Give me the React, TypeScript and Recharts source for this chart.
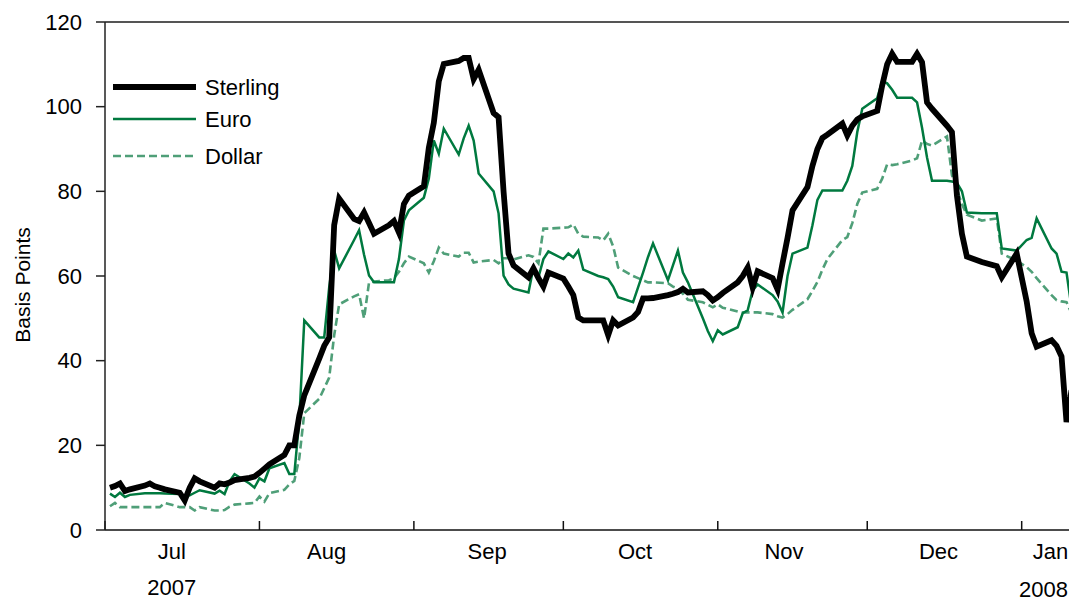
import React from "react";
import { LineChart, Line, XAxis, YAxis, Legend, ReferenceLine } from "recharts";

// business days, Jul 2007 - Jan 2008
const dates = [
  // Jul
  "2007-07-02", "2007-07-03", "2007-07-04", "2007-07-05", "2007-07-06", "2007-07-09", "2007-07-10", "2007-07-11",
  "2007-07-12", "2007-07-13", "2007-07-16", "2007-07-17", "2007-07-18", "2007-07-19", "2007-07-20", "2007-07-23",
  "2007-07-24", "2007-07-25", "2007-07-26", "2007-07-27", "2007-07-30", "2007-07-31",
  // Aug
  "2007-08-01", "2007-08-02", "2007-08-03", "2007-08-06", "2007-08-07", "2007-08-08", "2007-08-09", "2007-08-10",
  "2007-08-13", "2007-08-14", "2007-08-15", "2007-08-16", "2007-08-17", "2007-08-20", "2007-08-21", "2007-08-22",
  "2007-08-23", "2007-08-24", "2007-08-27", "2007-08-28", "2007-08-29", "2007-08-30", "2007-08-31",
  // Sep
  "2007-09-03", "2007-09-04", "2007-09-05", "2007-09-06", "2007-09-07", "2007-09-10", "2007-09-11", "2007-09-12",
  "2007-09-13", "2007-09-14", "2007-09-17", "2007-09-18", "2007-09-19", "2007-09-20", "2007-09-21", "2007-09-24",
  "2007-09-25", "2007-09-26", "2007-09-27", "2007-09-28",
  // Oct
  "2007-10-01", "2007-10-02", "2007-10-03", "2007-10-04", "2007-10-05", "2007-10-08", "2007-10-09", "2007-10-10",
  "2007-10-11", "2007-10-12", "2007-10-15", "2007-10-16", "2007-10-17", "2007-10-18", "2007-10-19", "2007-10-22",
  "2007-10-23", "2007-10-24", "2007-10-25", "2007-10-26", "2007-10-29", "2007-10-30", "2007-10-31",
  // Nov
  "2007-11-01", "2007-11-02", "2007-11-05", "2007-11-06", "2007-11-07", "2007-11-08", "2007-11-09", "2007-11-12",
  "2007-11-13", "2007-11-14", "2007-11-15", "2007-11-16", "2007-11-19", "2007-11-20", "2007-11-21", "2007-11-22",
  "2007-11-23", "2007-11-26", "2007-11-27", "2007-11-28", "2007-11-29", "2007-11-30",
  // Dec
  "2007-12-03", "2007-12-04", "2007-12-05", "2007-12-06", "2007-12-07", "2007-12-10", "2007-12-11", "2007-12-12",
  "2007-12-13", "2007-12-14", "2007-12-17", "2007-12-18", "2007-12-19", "2007-12-20", "2007-12-21", "2007-12-24",
  "2007-12-27", "2007-12-28", "2007-12-31",
  // Jan
  "2008-01-02", "2008-01-03", "2008-01-04", "2008-01-07", "2008-01-08", "2008-01-09", "2008-01-10", "2008-01-11",
];

const sterling = [
  10.0, 10.4, 11.0, 9.2, 9.6, 10.5, 11.0, 10.3, 10.0, 9.6, 8.8, 7.0, 10.0, 12.2, 11.5, 10.0, 11.0, 10.8, 11.2, 11.8, 12.3, 12.6,
  13.5, 14.5, 15.5, 17.7, 20.0, 20.0, 27.0, 31.8, 40.5, 43.5, 45.5, 72.0, 78.3, 73.5, 73.0, 75.0, 72.5, 70.0, 72.0, 73.0, 70.3, 77.0, 79.0,
  81.2, 90.3, 96.2, 106.0, 110.1, 110.8, 111.5, 111.5, 106.5, 108.7, 98.5, 97.5, 80.0, 65.3, 62.5, 59.7, 61.8, 59.5, 57.5, 60.8,
  59.4, 57.5, 55.5, 50.2, 49.5, 49.5, 49.5, 46.0, 49.5, 48.3, 50.2, 51.5, 54.7, 54.7, 54.8, 55.5, 55.8, 56.2, 57.0, 56.1, 56.4, 55.5, 54.2,
  55.0, 56.0, 58.5, 60.0, 62.0, 57.3, 61.1, 59.5, 56.8, 63.0, 69.0, 75.5, 81.0, 86.0, 90.0, 92.6, 93.4, 96.0, 93.2, 95.5, 97.0, 97.7,
  99.0, 105.0, 110.0, 112.5, 110.6, 110.6, 112.5, 110.5, 101.0, 99.5, 95.5, 94.0, 79.0, 70.0, 64.6, 63.3, 62.3, 59.7, 65.3,
  54.0, 46.5, 43.3, 44.8, 43.5, 41.0, 25.5, 33.0,
];

const euro = [
  8.6, 7.8, 8.8, 7.8, 8.3, 8.7, 8.7, 8.7, 8.7, 8.6, 8.5, 8.0, 8.2, 8.8, 9.4, 8.6, 9.3, 8.5, 11.5, 13.2, 11.0, 10.0,
  12.2, 11.5, 14.6, 15.8, 13.2, 13.2, 26.0, 49.5, 45.5, 45.5, 57.3, 66.0, 61.8, 68.5, 70.8, 65.0, 60.1, 58.5, 58.5, 58.5, 64.0, 73.1, 75.5,
  78.5, 83.0, 92.0, 88.9, 94.8, 88.7, 92.5, 95.5, 92.0, 84.2, 80.0, 74.8, 60.1, 58.0, 57.0, 56.1, 62.0, 59.7, 64.0, 65.8,
  64.0, 65.3, 64.4, 66.0, 61.5, 60.0, 59.7, 59.3, 57.5, 55.0, 53.8, 57.3, 60.8, 64.5, 67.7, 59.0, 62.5, 66.0, 60.8, 58.5, 50.0, 47.0, 44.6,
  47.2, 46.2, 47.9, 51.2, 51.9, 56.6, 58.0, 55.5, 54.0, 51.4, 60.0, 65.3, 66.7, 72.0, 78.0, 80.2, 80.2, 80.2, 82.5, 86.0, 94.0, 99.5,
  102.0, 106.0, 105.5, 104.0, 102.1, 102.1, 101.0, 95.0, 88.0, 82.5, 82.5, 82.3, 82.0, 80.0, 75.0, 74.8, 74.8, 66.5, 66.0,
  68.5, 69.0, 73.6, 66.5, 65.3, 61.0, 60.8, 52.6,
];

const dollar = [
  5.6, 6.4, 5.4, 5.4, 5.4, 5.4, 5.4, 5.4, 5.4, 6.4, 5.4, 5.4, 5.4, 4.6, 5.4, 4.6, 4.6, 4.7, 5.5, 6.0, 6.3, 6.4,
  7.9, 6.7, 8.7, 9.5, 10.8, 11.6, 17.0, 27.6, 31.0, 33.5, 36.0, 46.0, 53.3, 55.2, 55.7, 50.0, 58.5, 58.7, 59.0, 59.5, 61.0, 63.0, 64.6,
  63.0, 60.8, 63.5, 66.7, 65.3, 64.6, 65.5, 65.5, 63.2, 63.4, 63.8, 63.0, 64.2, 64.2, 63.9, 64.9, 64.5, 63.0, 71.2, 71.2,
  71.4, 71.5, 72.2, 70.0, 69.3, 69.1, 68.4, 70.0, 67.0, 62.0, 60.0, 59.5, 59.0, 58.5, 58.5, 58.3, 57.5, 57.0, 55.8, 54.4, 53.8, 53.2, 52.6,
  53.3, 52.5, 51.6, 51.4, 51.4, 51.4, 51.4, 51.0, 50.5, 50.2, 51.0, 52.0, 54.5, 56.5, 58.6, 61.5, 64.0, 68.5, 69.2, 72.5, 77.0, 79.7,
  80.6, 83.0, 86.4, 86.2, 86.4, 87.3, 87.8, 92.0, 91.2, 90.8, 93.0, 83.8, 80.5, 77.0, 74.5, 73.1, 73.6, 65.3, 63.6,
  62.1, 61.0, 59.5, 55.5, 54.3, 54.0, 53.8, 51.2,
];

// x axis: days since 1 Jul 2007
const monthStartDays = [0, 31, 62, 92, 123, 153, 184];
const monthLabelDays = [13.4, 44.5, 76.7, 106.4, 136.3, 167.3, 189.8];
const monthLabels = ["Jul", "Aug", "Sep", "Oct", "Nov", "Dec", "Jan"];
const yearLabels = ["2007", "", "", "", "", "", "2008"];
const yTicks = [0, 20, 40, 60, 80, 100, 120];

const FONT = "'Liberation Sans', Arial, sans-serif";
const BASE = Date.UTC(2007, 6, 1);
const toDay = (s: string) => {
  const [y, m, d] = s.split("-").map(Number);
  return (Date.UTC(y, m - 1, d) - BASE) / 86400000;
};

const data = dates.map((d, i) => ({
  day: toDay(d),
  sterling: sterling[i],
  euro: euro[i],
  dollar: dollar[i],
}));

const series = [
  { key: "sterling", name: "Sterling", color: "#000000", width: 5.8, dash: undefined as string | undefined },
  { key: "euro", name: "Euro", color: "#00793f", width: 2.5, dash: undefined as string | undefined },
  { key: "dollar", name: "Dollar", color: "#4f9f78", width: 2.6, dash: "8 4" },
];

const X_DOMAIN: [number, number] = [0, 194.3];

function MonthTick({ x, y, index }: any) {
  const year = yearLabels[index];
  const last = index === monthLabels.length - 1;
  return (
    <g fontFamily={FONT} fontSize={22} fill="#000">
      <text x={x} y={y + 28} textAnchor="middle">
        {monthLabels[index]}
      </text>
      {year && (
        <text x={last ? x - 7 : x} y={y + (last ? 66 : 64)} textAnchor="middle">
          {year}
        </text>
      )}
    </g>
  );
}

function AxisTitle({ viewBox }: any) {
  const cx = viewBox.x + 14;
  const cy = viewBox.y + viewBox.height / 2 + 9;
  return (
    <text
      x={cx}
      y={cy}
      transform={`rotate(-90, ${cx}, ${cy})`}
      textAnchor="middle"
      dominantBaseline="central"
      fontFamily={FONT}
      fontSize={21}
      fill="#000"
    >
      Basis Points
    </text>
  );
}

function LegendBox() {
  return (
    <svg width={220} height={110} style={{ display: "block" }}>
      {series.map((s, i) => (
        <g key={s.key} transform={`translate(0, ${[17, 49, 86][i]})`}>
          <line x1={5} x2={88} y1={0} y2={0} stroke={s.color} strokeWidth={s.width} strokeDasharray={s.dash} />
          <text x={97} y={0} dy="0.35em" fontFamily={FONT} fontSize={22} fill="#000">
            {s.name}
          </text>
        </g>
      ))}
    </svg>
  );
}

export default function App() {
  return (
    <LineChart width={1069} height={597} data={data} margin={{ top: 14, right: 4, bottom: 14, left: 0 }}>
      <XAxis
        xAxisId="b"
        dataKey="day"
        type="number"
        domain={X_DOMAIN}
        ticks={monthLabelDays}
        tick={<MonthTick />}
        tickSize={0}
        tickMargin={0}
        height={60}
        axisLine={false}
        tickLine={false}
        interval={0}
      />
      <XAxis
        xAxisId="a"
        dataKey="day"
        type="number"
        domain={X_DOMAIN}
        ticks={monthStartDays}
        tickSize={-9}
        tickFormatter={() => ""}
        height={1}
        axisLine={{ stroke: "#111", strokeWidth: 1.5 }}
        tickLine={{ stroke: "#111", strokeWidth: 1.5 }}
        interval={0}
        allowDataOverflow
      />
      <YAxis
        domain={[0, 120]}
        ticks={yTicks}
        width={97}
        tickSize={9}
        tickMargin={14}
        axisLine={{ stroke: "#222", strokeWidth: 1.5 }}
        tickLine={{ stroke: "#222", strokeWidth: 1.5 }}
        tick={{ fill: "#000", fontSize: 22, fontFamily: FONT }}
        label={<AxisTitle />}
      />
      <ReferenceLine xAxisId="a" y={120} stroke="#555" strokeWidth={2} />
      <ReferenceLine xAxisId="a" x={X_DOMAIN[1]} stroke="#555" strokeWidth={2} />
      <Legend
        layout="vertical"
        align="center"
        verticalAlign="middle"
        content={() => <LegendBox />}
        wrapperStyle={{ left: 100, top: 62, width: 220, height: 110 }}
      />
      {[...series].reverse().map((s) => (
        <Line
          key={s.key}
          xAxisId="a"
          type="linear"
          dataKey={s.key}
          name={s.name}
          stroke={s.color}
          strokeWidth={s.width}
          strokeDasharray={s.dash}
          strokeLinejoin="miter"
          dot={false}
          activeDot={false}
          isAnimationActive={false}
        />
      ))}
    </LineChart>
  );
}
